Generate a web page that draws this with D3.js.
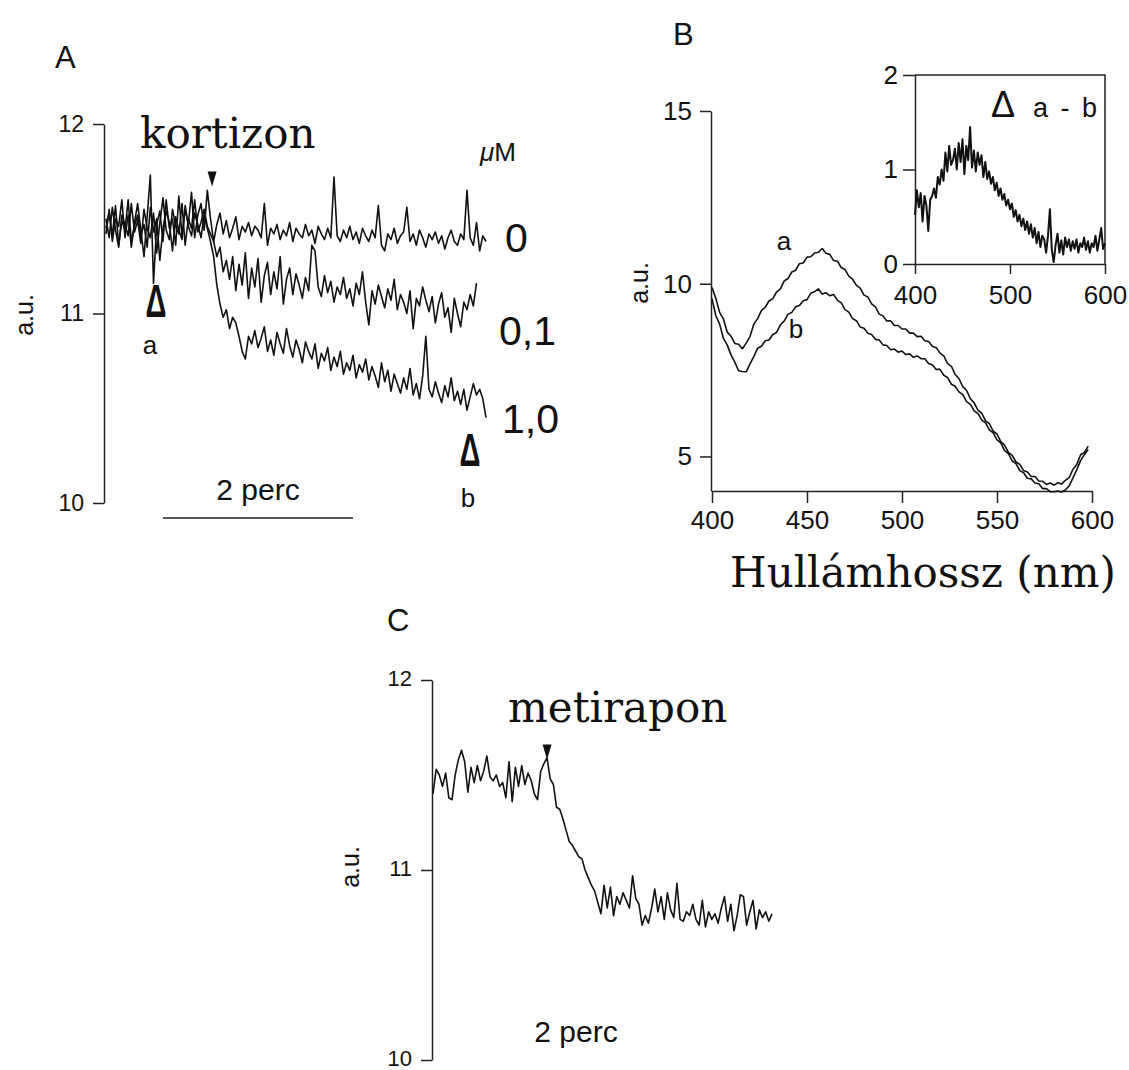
<!DOCTYPE html>
<html lang="hu">
<head>
<meta charset="UTF-8">
<title>Kortizon / metirapon spektrum</title>
<script src="https://cdn.jsdelivr.net/npm/d3@7"></script>
<style>
  body { margin: 0; background: #fff; }
  svg text { fill: #111; }
  .sans { font-family: "Liberation Sans", Arial, sans-serif; }
  .serif { font-family: "DejaVu Serif", serif; }
  .trace { fill: none; stroke: #111; stroke-width: 1.6; stroke-linejoin: round; }
  .trace.dense { stroke-width: 2; }
  .axis path, .axis line { stroke: #222; stroke-width: 1.5; }
</style>
</head>
<body>
<svg id="fig" width="1129" height="1070"></svg>
<script>
// ---------- panel A: kortizon, 2 s per sample ----------
const stepA = 2;
const traceA0 = [
  11.42, 11.55, 11.38, 11.50, 11.46, 11.60, 11.40, 11.52, 11.35, 11.48,
  11.58, 11.44, 11.30, 11.51, 11.73, 11.16, 11.47, 11.54, 11.38, 11.60,
  11.45, 11.50, 11.36, 11.62, 11.41, 11.55, 11.47, 11.64, 11.40, 11.52,
  11.58, 11.44, 11.65, 11.50,
  11.38, 11.47, 11.53, 11.42, 11.49, 11.40, 11.45, 11.51, 11.39, 11.46,
  11.43, 11.48, 11.41, 11.46, 11.44, 11.40, 11.58, 11.36, 11.45, 11.42,
  11.47, 11.39, 11.44, 11.41, 11.48, 11.38, 11.45, 11.42, 11.40, 11.47,
  11.41, 11.44, 11.37, 11.46, 11.42, 11.39, 11.45, 11.40, 11.72, 11.41,
  11.38, 11.44, 11.40, 11.46, 11.39, 11.43, 11.37, 11.45, 11.41, 11.38,
  11.44, 11.40, 11.57, 11.36, 11.33, 11.42, 11.39, 11.45, 11.37, 11.41,
  11.43, 11.56, 11.38, 11.42, 11.36, 11.44, 11.40, 11.35, 11.42, 11.39,
  11.43, 11.37, 11.41, 11.34, 11.40, 11.44, 11.38, 11.36, 11.42, 11.39,
  11.65, 11.40, 11.36, 11.48, 11.33, 11.41, 11.38
];
const traceA01 = [
  11.50, 11.40, 11.56, 11.44, 11.35, 11.52, 11.47, 11.41, 11.58, 11.43,
  11.49, 11.37, 11.55, 11.45, 11.40, 11.53, 11.32, 11.48, 11.61, 11.44,
  11.39, 11.55, 11.46, 11.42, 11.58, 11.36, 11.50, 11.45, 11.60, 11.43,
  11.48, 11.55, 11.46, 11.42,
  11.38, 11.30, 11.35, 11.22, 11.28, 11.18, 11.30, 11.12, 11.26, 11.15,
  11.32, 11.08, 11.24, 11.14, 11.29, 11.06, 11.20, 11.27, 11.10, 11.22,
  11.13, 11.30, 11.05, 11.18, 11.24, 11.10, 11.21, 11.15, 11.08, 11.19,
  11.12, 11.36, 11.33, 11.14, 11.09, 11.20, 11.11, 11.17, 11.06, 11.14,
  11.10, 11.19, 11.08, 11.13, 11.04, 11.16, 11.10, 11.22, 11.06, 10.94,
  11.12, 11.05, 11.15, 11.09, 11.03, 11.13, 11.07, 11.18, 11.02, 11.10,
  11.06, 11.00, 11.12, 10.92, 11.08, 11.04, 11.14, 11.07, 11.01, 11.09,
  10.95, 11.05, 11.11, 10.98, 11.03, 10.90, 11.08, 11.00, 10.93, 11.06,
  11.02, 11.10, 11.04, 11.16
];
const traceA10 = [
  11.45, 11.53, 11.41, 11.57, 11.36, 11.49, 11.44, 11.60, 11.38, 11.46,
  11.52, 11.41, 11.47, 11.35, 11.56, 11.43, 11.50, 11.28, 11.45, 11.54,
  11.48, 11.33, 11.51, 11.44, 11.39, 11.57, 11.46, 11.41, 11.53, 11.47,
  11.40, 11.52, 11.45, 11.38,
  11.30, 11.15, 11.05, 10.98, 11.02, 10.92, 10.98, 10.95, 10.88, 10.80,
  10.76, 10.88, 10.84, 10.91, 10.82, 10.87, 10.93, 10.80, 10.86, 10.78,
  10.90, 10.84, 10.79, 10.92, 10.83, 10.77, 10.86, 10.81, 10.74, 10.85,
  10.80, 10.76, 10.84, 10.71, 10.79, 10.75, 10.82, 10.70, 10.77, 10.72,
  10.80, 10.68, 10.74, 10.70, 10.78, 10.66, 10.73, 10.69, 10.76, 10.65,
  10.72, 10.67, 10.61, 10.74, 10.64, 10.70, 10.59, 10.68, 10.63, 10.58,
  10.66, 10.60, 10.71, 10.57, 10.63, 10.55, 10.67, 10.88, 10.60, 10.56,
  10.64, 10.58, 10.53, 10.62, 10.56, 10.66, 10.54, 10.59, 10.52, 10.60,
  10.49, 10.56, 10.63, 10.57, 10.60, 10.55, 10.45
];
const concLabelsA = ["0", "0,1", "1,0"];
const yTicksA = [10, 11, 12];
const kortizonT = 67;        // s, addition
const scaleBarA = [36, 156]; // s, 2 perc

// ---------- panel B: spectra, 2 nm per sample ----------
const startB = 400, stepB = 2;
const specA = [
  9.89, 9.58, 9.17, 8.98, 8.60, 8.48, 8.27, 8.25, 8.12, 8.28,
  8.47, 8.83, 8.99, 9.22, 9.32, 9.50, 9.57, 9.76, 9.85, 10.08,
  10.15, 10.34, 10.39, 10.58, 10.60, 10.77, 10.78, 10.89, 10.91, 11.02,
  10.88, 10.85, 10.67, 10.65, 10.47, 10.41, 10.22, 10.13, 9.95, 9.87,
  9.67, 9.62, 9.42, 9.33, 9.12, 9.07, 8.92, 8.93, 8.79, 8.79,
  8.69, 8.69, 8.57, 8.57, 8.47, 8.48, 8.35, 8.33, 8.19, 8.15,
  7.99, 7.91, 7.69, 7.61, 7.37, 7.25, 7.02, 6.91, 6.67, 6.55,
  6.34, 6.25, 6.03, 5.95, 5.73, 5.65, 5.43, 5.33, 5.12, 5.03,
  4.84, 4.77, 4.59, 4.55, 4.42, 4.42, 4.29, 4.28, 4.19, 4.23,
  4.17, 4.24, 4.20, 4.31, 4.39, 4.63, 4.77, 5.05, 5.12, 5.30
];
const specB = [
  9.57, 9.08, 8.83, 8.42, 8.23, 7.94, 7.73, 7.48, 7.46, 7.45,
  7.68, 7.89, 8.13, 8.19, 8.35, 8.37, 8.53, 8.59, 8.81, 8.92,
  9.12, 9.17, 9.33, 9.37, 9.51, 9.54, 9.73, 9.77, 9.85, 9.70,
  9.74, 9.65, 9.69, 9.52, 9.45, 9.25, 9.18, 8.99, 8.93, 8.75,
  8.71, 8.57, 8.53, 8.39, 8.37, 8.23, 8.21, 8.09, 8.11, 8.02,
  8.05, 7.95, 7.97, 7.87, 7.91, 7.83, 7.83, 7.69, 7.65, 7.52,
  7.52, 7.35, 7.28, 7.09, 7.03, 6.87, 6.79, 6.59, 6.51, 6.32,
  6.24, 6.05, 5.97, 5.77, 5.68, 5.48, 5.39, 5.17, 5.08, 4.87,
  4.79, 4.59, 4.53, 4.37, 4.35, 4.23, 4.21, 4.07, 4.07, 3.98,
  3.98, 4.00, 3.97, 4.03, 4.15, 4.38, 4.62, 4.88, 5.06, 5.20
];
const xTicksB = [400, 450, 500, 550, 600];
const yTicksB = [5, 10, 15];

// inset: difference spectrum a - b
const diffAB = [
  0.52, 0.78, 0.60, 0.75, 0.45, 0.72, 0.62, 0.35, 0.68, 0.72,
  0.80, 0.70, 0.92, 0.84, 1.00, 0.88, 1.18, 0.98, 1.25, 1.05,
  1.10, 1.22, 1.00, 1.28, 1.08, 1.32, 0.95, 1.25, 1.10, 1.45,
  1.02, 1.20, 0.98, 1.18, 1.05, 1.15, 0.92, 1.08, 0.90, 0.98,
  0.85, 0.92, 0.78, 0.86, 0.72, 0.80, 0.68, 0.74, 0.62, 0.68,
  0.58, 0.64, 0.50, 0.57, 0.45, 0.52, 0.40, 0.48, 0.36, 0.45,
  0.32, 0.42, 0.28, 0.38, 0.22, 0.34, 0.18, 0.30, 0.26, 0.12,
  0.30, 0.58, 0.15, 0.02, 0.20, 0.32, 0.12, 0.25, 0.10, 0.28,
  0.18, 0.26, 0.14, 0.24, 0.16, 0.26, 0.12, 0.22, 0.18, 0.28,
  0.15, 0.24, 0.12, 0.22, 0.18, 0.30, 0.14, 0.26, 0.38, 0.16,
  0.22
];
const xTicksInset = [400, 500, 600];
const yTicksInset = [0, 1, 2];

// ---------- panel C: metirapon, 2 s per sample ----------
const stepC = 2;
const traceC = [
  11.40, 11.53, 11.50, 11.44, 11.51, 11.38, 11.37, 11.50, 11.58, 11.63,
  11.57, 11.41, 11.54, 11.46, 11.55, 11.47, 11.52, 11.60, 11.49, 11.47,
  11.50, 11.44, 11.46, 11.38, 11.57, 11.36, 11.54, 11.44, 11.55, 11.45,
  11.51, 11.47, 11.40, 11.37, 11.52, 11.56, 11.59, 11.48, 11.45, 11.33,
  11.32, 11.27, 11.21, 11.15, 11.13, 11.10, 11.07, 11.06, 11.00, 10.96,
  10.92, 10.89, 10.83, 10.77, 10.92, 10.80, 10.91, 10.76, 10.86, 10.82,
  10.88, 10.84, 10.80, 10.97, 10.85, 10.82, 10.71, 10.76, 10.72, 10.80,
  10.90, 10.78, 10.86, 10.74, 10.88, 10.79, 10.75, 10.93, 10.74, 10.73,
  10.78, 10.76, 10.82, 10.74, 10.71, 10.84, 10.70, 10.78, 10.74, 10.77,
  10.72, 10.80, 10.86, 10.73, 10.82, 10.68, 10.76, 10.87, 10.86, 10.71,
  10.78, 10.84, 10.69, 10.79, 10.75, 10.78, 10.73, 10.77
];
const yTicksC = [10, 11, 12];
const metiraponT = 72;

// ---------- drawing ----------
const svg = d3.select("#fig");
const SANS = "Liberation Sans, Arial, sans-serif";

function addAxis(axis, tx, ty, fontSize) {
  const g = svg.append("g").attr("class", "axis")
    .attr("transform", `translate(${tx},${ty})`)
    .call(axis);
  g.selectAll("text").attr("font-family", SANS).attr("font-size", fontSize).attr("fill", "#111");
  return g;
}

function addTrace(values, x, y, step, start, cls) {
  const line = d3.line().x((d, i) => x(start + i * step)).y(d => y(d));
  svg.append("path").attr("class", "trace " + (cls || "")).attr("d", line(values));
}

function label(txt, x, y, size, cls, anchor) {
  return svg.append("text").attr("class", cls || "sans")
    .attr("x", x).attr("y", y).attr("font-size", size)
    .attr("text-anchor", anchor || "start").text(txt);
}

function yLabel(x, y, size) {
  svg.append("text").attr("class", "sans").attr("font-size", size)
    .attr("text-anchor", "middle")
    .attr("transform", `translate(${x},${y}) rotate(-90)`).text("a.u.");
}

function downArrow(cx, top) {
  svg.append("path").attr("d", `M${cx - 4.5},${top}L${cx + 4.5},${top}L${cx},${top + 15}Z`).attr("fill", "#111");
}

function bigDelta(cx, base) {
  svg.append("text").attr("class", "sans").attr("font-size", 47).attr("font-weight", "bold")
    .attr("text-anchor", "middle")
    .attr("transform", `translate(${cx},${base}) scale(0.62,1)`).text("Δ");
}

// A
const xA = d3.scaleLinear().domain([0, 240]).range([106, 486]);
const yA = d3.scaleLinear().domain([10, 12]).range([503, 124]);
label("A", 55, 68, 31);
addAxis(d3.axisLeft(yA).tickValues(yTicksA).tickSize(11).tickSizeOuter(0).tickPadding(9).tickFormat(d3.format("d")), 104, 0, 23);
yLabel(33, 315, 25);
[traceA10, traceA01, traceA0].forEach(v => addTrace(v, xA, yA, stepA, 0));
label("kortizon", 140, 148, 42, "serif");
downArrow(xA(kortizonT), yA(11.75));
const muM = svg.append("text").attr("class", "sans").attr("x", 480).attr("y", 161).attr("font-size", 26);
muM.append("tspan").attr("font-style", "italic").text("μ");
muM.append("tspan").text("M");
label(concLabelsA[0], 505, 252, 41);
label(concLabelsA[1], 499, 345, 41);
label(concLabelsA[2], 502, 433, 41);
bigDelta(156, 317);
label("a", 150, 354, 26, "sans", "middle");
bigDelta(470, 466);
label("b", 468, 507, 26, "sans", "middle");
svg.append("line").attr("x1", xA(scaleBarA[0])).attr("x2", xA(scaleBarA[1]))
  .attr("y1", 518).attr("y2", 518).attr("stroke", "#222").attr("stroke-width", 1.5);
label("2 perc", (xA(scaleBarA[0]) + xA(scaleBarA[1])) / 2, 500, 30, "sans", "middle");

// B
const xB = d3.scaleLinear().domain([400, 600]).range([712, 1092]);
const yB = d3.scaleLinear().domain([4, 15]).range([491, 111]);
label("B", 673, 45, 31);
addAxis(d3.axisLeft(yB).tickValues(yTicksB).tickSize(11).tickSizeOuter(0).tickPadding(8), 711, 0, 26);
addAxis(d3.axisBottom(xB).tickValues(xTicksB).tickSize(12).tickSizeOuter(0).tickPadding(8), 0, 491, 26);
yLabel(648, 283, 25);
addTrace(specA, xB, yB, stepB, startB);
addTrace(specB, xB, yB, stepB, startB);
label("a", 784, 250, 26, "sans", "middle");
label("b", 796, 338, 26, "sans", "middle");
label("Hullámhossz (nm)", 730, 587, 42, "serif");

// inset
const xI = d3.scaleLinear().domain([400, 600]).range([915, 1105]);
const yI = d3.scaleLinear().domain([0, 2]).range([264, 75]);
addAxis(d3.axisLeft(yI).tickValues(yTicksInset).tickSize(12).tickSizeOuter(0).tickPadding(5).tickFormat(d3.format("d")), 915, 0, 26);
addAxis(d3.axisBottom(xI).tickValues(xTicksInset).tickSize(10).tickSizeOuter(0).tickPadding(12), 0, 264, 26);
svg.append("path").attr("fill", "none").attr("stroke", "#222").attr("stroke-width", 1.5)
  .attr("d", `M${xI(400)},${yI(2)}H${xI(600)}V${yI(0)}`);
addTrace(diffAB, xI, yI, stepB, startB, "dense");
label("Δ", 991, 117, 36);
label("a - b", 1033, 117, 27).attr("word-spacing", 5);

// C
const xC = d3.scaleLinear().domain([0, 214]).range([433, 772]);
const yC = d3.scaleLinear().domain([10, 12]).range([1060, 680]);
label("C", 387, 631, 31);
const axC = addAxis(d3.axisLeft(yC).tickValues(yTicksC).tickSize(11).tickSizeOuter(0).tickPadding(9).tickFormat(d3.format("d")), 432, 0, 22);
axC.selectAll("text").attr("dy", "0.26em");
yLabel(359, 867, 25);
addTrace(traceC, xC, yC, stepC, 0);
label("metirapon", 508, 722, 42, "serif");
downArrow(xC(metiraponT), yC(11.66));
label("2 perc", 576, 1042, 30, "sans", "middle");
</script>
</body>
</html>
